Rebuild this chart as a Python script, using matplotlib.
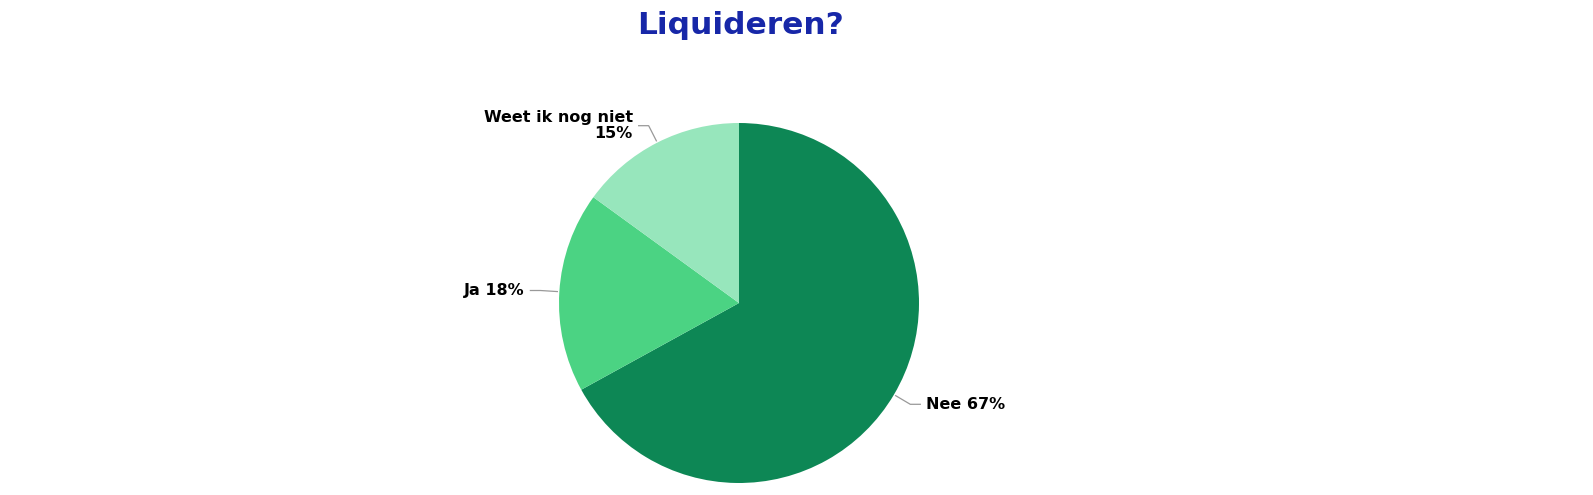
import numpy as np
import matplotlib
matplotlib.use("Agg")
import matplotlib.pyplot as plt

labels = ["Nee", "Ja", "Weet ik nog niet"]
values = [67, 18, 15]
colors = ["#0d8755", "#4bd383", "#97e6bc"]

W, H = 1593, 495
cx, cy, r = 739, H - 303, 180

fig = plt.figure(figsize=(W / 100, H / 100), dpi=100)
ax = fig.add_axes([0, 0, 1, 1])

wedges, _ = ax.pie(values, colors=colors, startangle=90, counterclock=False,
                   radius=r, center=(cx, cy),
                   wedgeprops=dict(linewidth=0))
ax.set_xlim(0, W)
ax.set_ylim(0, H)
ax.set_aspect("equal")
ax.axis("off")

# labels with elbow connector lines
for w, lab, v in zip(wedges, labels, values):
    ang = np.deg2rad((w.theta1 + w.theta2) / 2)
    x0, y0 = cx + (r + 2) * np.cos(ang), cy + (r + 2) * np.sin(ang)
    x1, y1 = cx + (r + 19) * np.cos(ang), cy + (r + 19) * np.sin(ang)
    side = 1 if np.cos(ang) >= 0 else -1
    x2 = x1 + side * 10
    ax.plot([x0, x1, x2], [y0, y1, y1], color="#999999", lw=0.9)
    if lab == "Weet ik nog niet":
        txt = f"{lab}\n{v}%"
    else:
        txt = f"{lab} {v}%"
    ax.text(x2 + side * 6, y1, txt, ha="left" if side > 0 else "right",
            va="center", fontsize=11.5, fontweight="bold", color="black",
            multialignment="right", linespacing=1.05)

fig.text(740 / W, 1 - 26 / H, "Liquideren?", ha="center", va="center",
         fontsize=22.5, fontweight="bold", color="#1727a8")

fig.savefig("out.png", dpi=100)
